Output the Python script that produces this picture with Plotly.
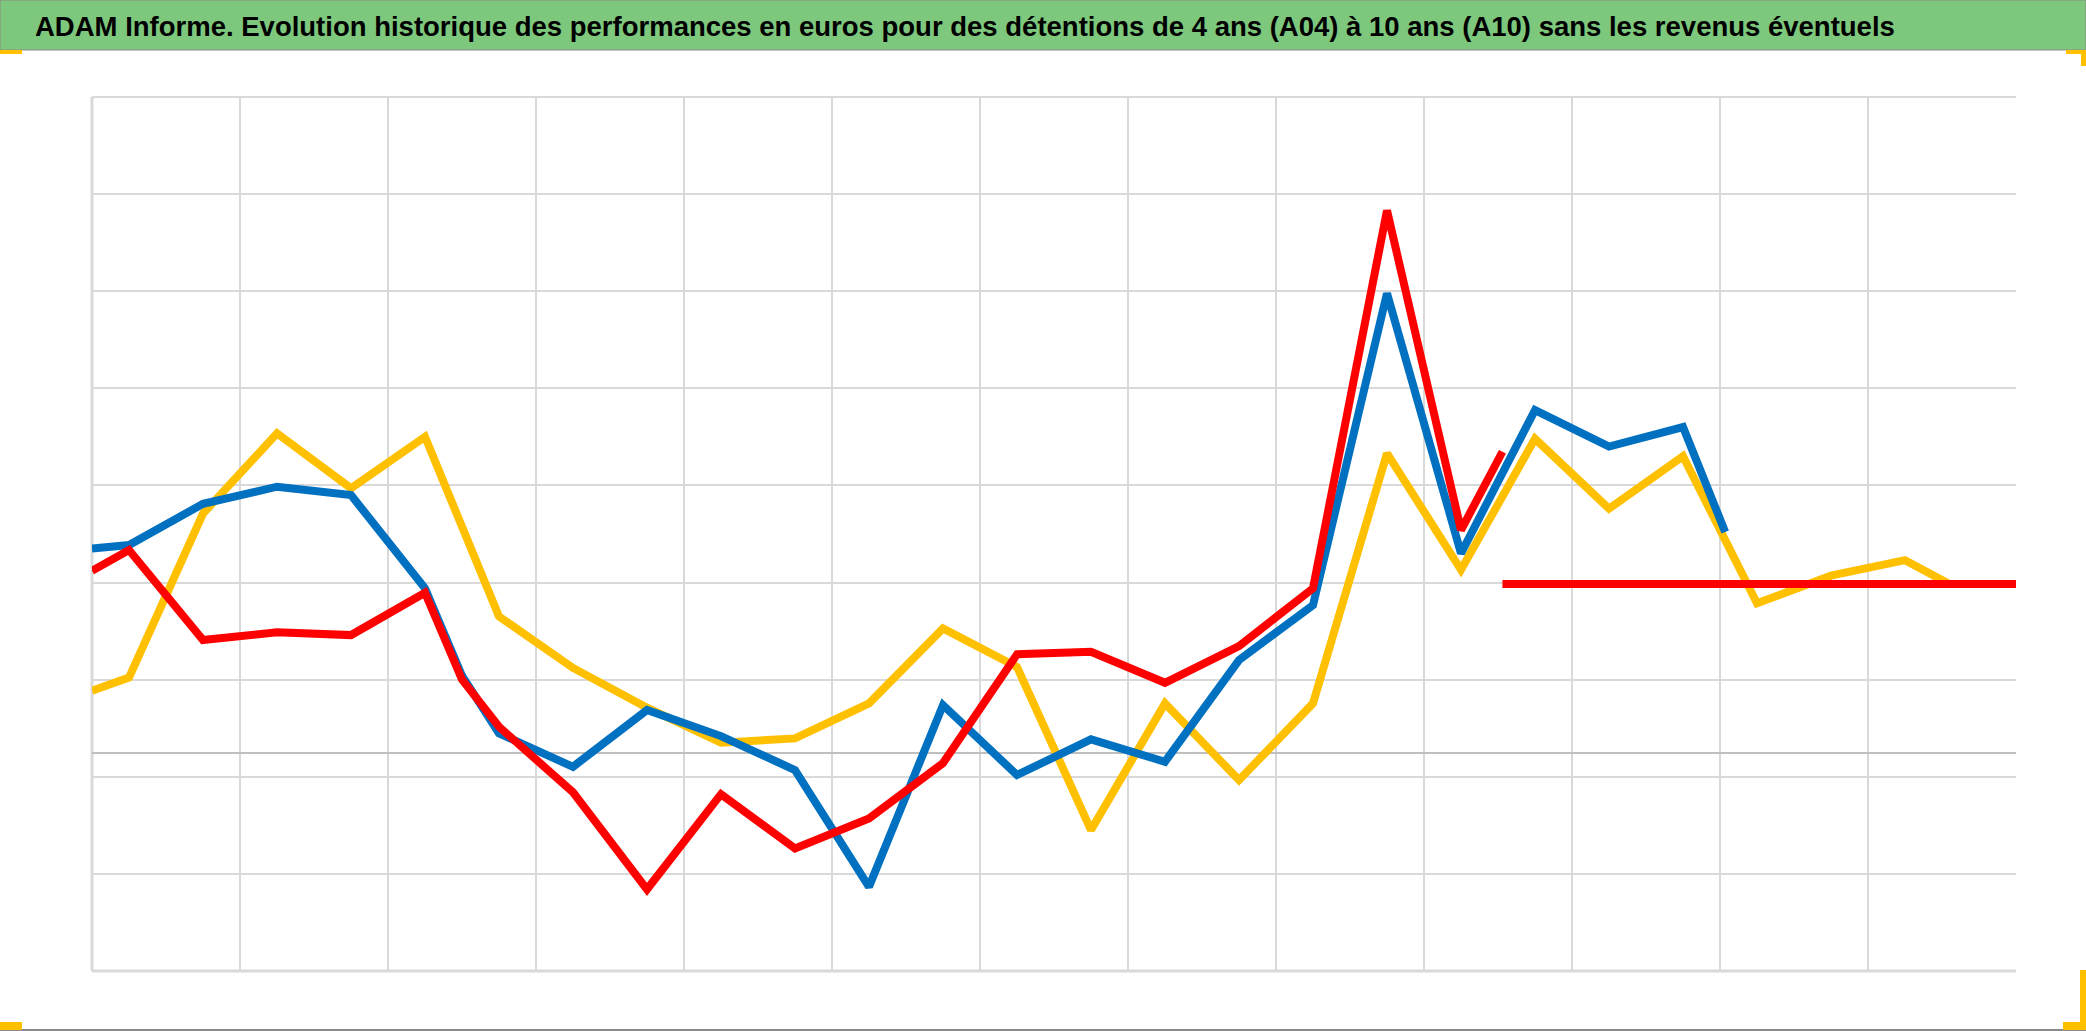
import plotly.graph_objects as go

# ---------------- data ----------------
# x positions in half-grid units (0 .. 26), y in grid units (0 = darker axis line)
yellow_x = [0, 0.5, 1.5, 2.5, 3.5, 4.5, 5.5, 6.5, 7.5, 8.5, 9.5, 10.5, 11.5, 12.5,
            13.5, 14.5, 15.5, 16.5, 17.5, 18.5, 19.5, 20.5, 21.5, 22.5, 23.5, 24.5, 25.1, 26]
yellow_y = [0.645, 0.78, 2.47, 3.295, 2.73, 3.26, 1.41, 0.88, 0.47, 0.11, 0.154, 0.515,
            1.287, 0.89, -0.79, 0.515, -0.275, 0.515, 3.09, 1.89, 3.24, 2.52, 3.06,
            1.545, 1.83, 1.99, 1.745, 1.745]

blue_x = [0, 0.5, 1.5, 2.5, 3.5, 4.5, 5.0, 5.5, 6.5, 7.5, 8.5, 9.5, 10.5, 11.5, 12.5,
          13.5, 14.5, 15.5, 16.5, 17.5, 18.5, 19.5, 20.5, 21.5, 22.07]
blue_y = [2.11, 2.145, 2.57, 2.746, 2.66, 1.70, 0.80, 0.206, -0.138, 0.446, 0.178,
          -0.172, -1.374, 0.497, -0.223, 0.144, -0.086, 0.96, 1.527, 4.737, 2.06,
          3.535, 3.16, 3.36, 2.28]

red_x = [0, 0.5, 1.5, 2.5, 3.5, 4.5, 5.0, 5.5, 6.5, 7.5, 8.5, 9.5, 10.5, 11.5, 12.5,
         13.5, 14.5, 15.5, 16.5, 17.5, 18.5, 19.06]
red_y = [1.88, 2.094, 1.167, 1.246, 1.218, 1.654, 0.76, 0.274, -0.40, -1.40, -0.42,
         -0.98, -0.67, -0.10, 1.02, 1.046, 0.727, 1.105, 1.70, 5.59, 2.30, 3.106]

red_flat_x = [19.06, 26]
red_flat_y = [1.745, 1.745]

x_gridlines = [0, 2, 4, 6, 8, 10, 12, 14, 16, 18, 20, 22, 24]
y_bottom = -2.241
y_gridlines = [y_bottom + k for k in range(10)]

title = ("ADAM Informe. Evolution historique des performances en euros pour des "
         "détentions de 4 ans (A04) à 10 ans (A10) sans les revenus éventuels")

# ---------------- figure geometry ----------------
W, H = 2086, 1031
L, R, T, B = 92, 2016, 97, 971


def px(x):
    return (x - L) / (R - L)


def py(y):
    return (B - y) / (B - T)


YEL, BLU, RED = "#FFC000", "#0070C0", "#FF0000"
LW = 8
GRID = "#d9d9d9"

fig = go.Figure()
fig.add_trace(go.Scatter(x=yellow_x, y=yellow_y, mode="lines",
                         line=dict(color=YEL, width=LW), showlegend=False))
fig.add_trace(go.Scatter(x=blue_x, y=blue_y, mode="lines",
                         line=dict(color=BLU, width=LW), showlegend=False))
fig.add_trace(go.Scatter(x=red_x, y=red_y, mode="lines",
                         line=dict(color=RED, width=LW), showlegend=False))
fig.add_trace(go.Scatter(x=red_flat_x, y=red_flat_y, mode="lines",
                         line=dict(color=RED, width=LW), showlegend=False))

shapes = []
# plot-area edge lines (top, bottom, left)
shapes.append(dict(type="line", xref="paper", yref="paper", x0=0, x1=1, y0=1, y1=1,
                   line=dict(color=GRID, width=2), layer="below"))
shapes.append(dict(type="line", xref="paper", yref="paper", x0=0, x1=1, y0=0, y1=0,
                   line=dict(color=GRID, width=3), layer="below"))
shapes.append(dict(type="line", xref="paper", yref="paper", x0=0, x1=0, y0=0, y1=1,
                   line=dict(color=GRID, width=3), layer="below"))
# green title band
shapes.append(dict(type="rect", xref="paper", yref="paper",
                   x0=px(0), x1=px(W), y0=py(50), y1=py(0),
                   fillcolor="#7DC87D", line=dict(color="#8a8a8a", width=1), layer="below"))
# bottom border line
shapes.append(dict(type="line", xref="paper", yref="paper",
                   x0=px(0), x1=px(W), y0=py(1030), y1=py(1030),
                   line=dict(color="#8a8a8a", width=2)))
# orange selection handles
for (x0, x1, y0, y1) in [(0, 22, 50, 54), (2066, 2086, 50, 54), (2081, 2086, 50, 66),
                         (0, 22, 1022, 1030), (2080, 2086, 970, 1030), (2063, 2086, 1022, 1030)]:
    shapes.append(dict(type="rect", xref="paper", yref="paper",
                       x0=px(x0), x1=px(x1), y0=py(y1), y1=py(y0),
                       fillcolor=YEL, line=dict(width=0)))

fig.update_layout(
    width=W, height=H,
    margin=dict(l=L, r=W - R, t=T, b=H - B),
    paper_bgcolor="white", plot_bgcolor="white",
    shapes=shapes,
    annotations=[dict(text="<b>" + title + "</b>", xref="paper", yref="paper",
                      x=px(33), y=py(27), xanchor="left", yanchor="middle",
                      showarrow=False,
                      font=dict(family="Liberation Sans, Arial, sans-serif",
                                size=27.5, color="black"))],
)
fig.update_xaxes(range=[0, 26], tickvals=x_gridlines, showticklabels=False,
                 showgrid=True, gridcolor=GRID, gridwidth=2, zeroline=False,
                 showline=False, ticks="")
fig.update_yaxes(range=[y_bottom, y_bottom + 9], tickvals=y_gridlines, showticklabels=False,
                 showgrid=True, gridcolor=GRID, gridwidth=2,
                 zeroline=True, zerolinecolor="#bfbfbf", zerolinewidth=2,
                 showline=False, ticks="")

fig.write_html("out.html",
               config={"displayModeBar": False},
               post_script="document.body.style.margin='0px';document.body.style.overflow='hidden';")
